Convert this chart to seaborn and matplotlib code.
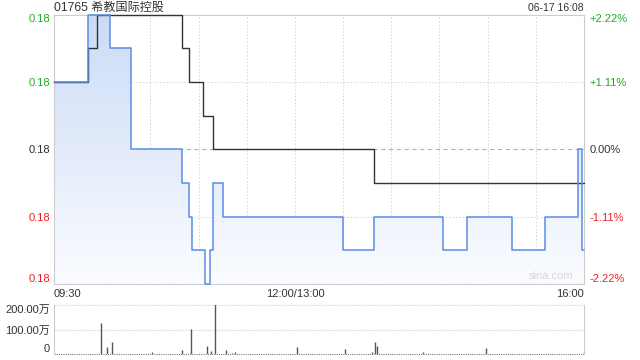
import numpy as np
import matplotlib
matplotlib.use("Agg")
import matplotlib.pyplot as plt
from matplotlib.colors import LinearSegmentedColormap
import seaborn as sns
import pandas as pd

# ---------------- data ----------------
title = "01765 希教国际控股"
stamp = "06-17 16:08"
prev_close = 0.180
# minutes since 09:30 (trading minutes, lunch removed) and last price
price_min = [0, 21, 35, 48, 80, 84, 86, 94, 97, 99, 105, 180, 199, 242, 257, 285, 306, 326, 329, 330]
price_val = [0.182, 0.184, 0.183, 0.180, 0.179, 0.178, 0.177, 0.176, 0.177, 0.179, 0.178,
             0.177, 0.178, 0.177, 0.178, 0.177, 0.178, 0.180, 0.177, 0.177]
# average price line
avg_min = [0, 21, 27, 80, 84, 93, 99, 199, 330]
avg_val = [0.182, 0.183, 0.184, 0.183, 0.182, 0.181, 0.180, 0.179, 0.179]
# volume (万)
vol_min = [29, 33, 36, 61, 80, 85, 95, 98, 100, 107, 111, 113, 151, 181, 198, 200, 201, 230, 269, 330]
vol_val = [128, 30, 49, 7, 16, 103, 33, 12, 205, 16, 5, 7, 30, 20, 7, 50, 34, 7, 26, 8]
x_tick_min = [0, 150, 330]
x_tick_lab = ["09:30", "12:00/13:00", "16:00"]
y_ticks = [0.176, 0.178, 0.180, 0.182, 0.184]
y_labels = ["0.18", "0.18", "0.18", "0.18", "0.18"]
pct_labels = ["-2.22%", "-1.11%", "0.00%", "+1.11%", "+2.22%"]
vol_ticks = [0, 100, 200]
vol_labels = ["0", "100.00万", "200.00万"]

GREEN = "#22aa22"
RED = "#ee2222"
DARK = "#333333"
BLUE = "#5a8de6"
FRAME = "#cccccc"
GRID = "#d4d4d4"

sns.set_theme(style="white")
plt.rcParams["font.family"] = ["Liberation Sans", "Noto Sans CJK SC", "DejaVu Sans"]
plt.rcParams["font.size"] = 8

fig = plt.figure(figsize=(6.4, 3.6), dpi=100)
ax = fig.add_axes([54 / 640, 1 - 284 / 360, 530 / 640, 269.5 / 360])
axv = fig.add_axes([54 / 640, 1 - 354 / 360, 530 / 640, 49 / 360])

ymin, ymax = 0.176, 0.184
xmax = 330

# gradient fill under price
poly = ax.fill_between(price_min, price_val, ymin, step="post",
                       facecolor="none", edgecolor="none")
cmap = LinearSegmentedColormap.from_list("g", ["#fbfcff", "#cbdbf6"])
grad = np.linspace(1, 0, 256).reshape(-1, 1)
im = ax.imshow(grad, extent=[0, xmax, ymin, ymax], aspect="auto", cmap=cmap,
               origin="upper", zorder=1)
im.set_clip_path(poly.get_paths()[0], transform=ax.transData)

# grid
for t in range(30, 330, 30):
    ax.axvline(t, color=GRID, lw=0.7, ls=(0, (1.5, 2)), zorder=0.5)
for y in [0.178, 0.182]:
    ax.axhline(y, color=GRID, lw=0.7, ls=(0, (1.5, 2)), zorder=0.5)
ax.axhline(prev_close, color="#b0b0b0", lw=0.8, ls=(0, (4, 3)), zorder=0.5)

df_avg = pd.DataFrame({"t": avg_min, "p": avg_val})
df_px = pd.DataFrame({"t": price_min, "p": price_val})
sns.lineplot(data=df_avg, x="t", y="p", ax=ax, color=DARK, lw=1.0,
             drawstyle="steps-post", zorder=3, clip_on=False)
sns.lineplot(data=df_px, x="t", y="p", ax=ax, color=BLUE, lw=1.1,
             drawstyle="steps-post", zorder=4, clip_on=False)

ax.set_xlim(0, xmax)
ax.set_ylim(ymin, ymax)
ax.set_xlabel("")
ax.set_ylabel("")
for s in ax.spines.values():
    s.set_color(FRAME)
    s.set_linewidth(0.8)

ax.set_yticks(y_ticks)
ax.set_yticklabels(y_labels)
ax.tick_params(axis="y", length=0, pad=3, labelsize=8)
cols = [RED, RED, DARK, GREEN, GREEN]
for lab, c in zip(ax.get_yticklabels(), cols):
    lab.set_color(c)
ax.get_yticklabels()[0].set_va("bottom")
ax.get_yticklabels()[-1].set_va("top")

ax2 = ax.twinx()
ax2.set_ylim(ymin, ymax)
ax2.set_yticks(y_ticks)
ax2.set_yticklabels(pct_labels)
ax2.tick_params(axis="y", length=0, pad=4, labelsize=8)
for lab, c in zip(ax2.get_yticklabels(), cols):
    lab.set_color(c)
ax2.get_yticklabels()[0].set_va("bottom")
ax2.get_yticklabels()[-1].set_va("top")
for s in ax2.spines.values():
    s.set_visible(False)

ax.set_xticks(x_tick_min)
ax.set_xticklabels(x_tick_lab)
ax.tick_params(axis="x", length=0, pad=3.5, labelsize=8, colors=DARK)
xl = ax.get_xticklabels()
xl[0].set_ha("left")
xl[-1].set_ha("right")

ax.text(0.979, 0.012, "sina.com", transform=ax.transAxes, ha="right", va="bottom",
        color="#d5d5d5", fontsize=8, zorder=5)

fig.text(54 / 640, 1 - 8 / 360, title, ha="left", va="center", fontsize=8.7, color=DARK)
fig.text(584 / 640, 1 - 8 / 360, stamp, ha="right", va="center", fontsize=7.5, color=DARK)

# volume
axv.vlines(vol_min, 0, vol_val, color="#555555", lw=1.0, zorder=3)
axv.set_xlim(0, xmax)
axv.set_ylim(0, 200)
for y in [100, 200]:
    axv.axhline(y, color=GRID, lw=0.8, ls=(0, (1, 1)), zorder=0.5, clip_on=False)
axv.axhline(0, color="#777777", lw=0.8, ls=(0, (1, 1)), zorder=2, clip_on=False)
axv.spines["top"].set_visible(False)
axv.spines["bottom"].set_visible(False)
axv.spines["left"].set_color(FRAME)
axv.spines["right"].set_color(FRAME)
axv.spines["left"].set_linewidth(0.8)
axv.spines["right"].set_linewidth(0.8)
axv.set_xticks([])
axv.set_yticks(vol_ticks)
axv.set_yticklabels(vol_labels)
axv.tick_params(axis="y", length=0, pad=3, labelsize=8, colors=DARK)
vl = axv.get_yticklabels()
vl[0].set_va("bottom")
vl[-1].set_va("top")

fig.savefig("out.png", dpi=100)
